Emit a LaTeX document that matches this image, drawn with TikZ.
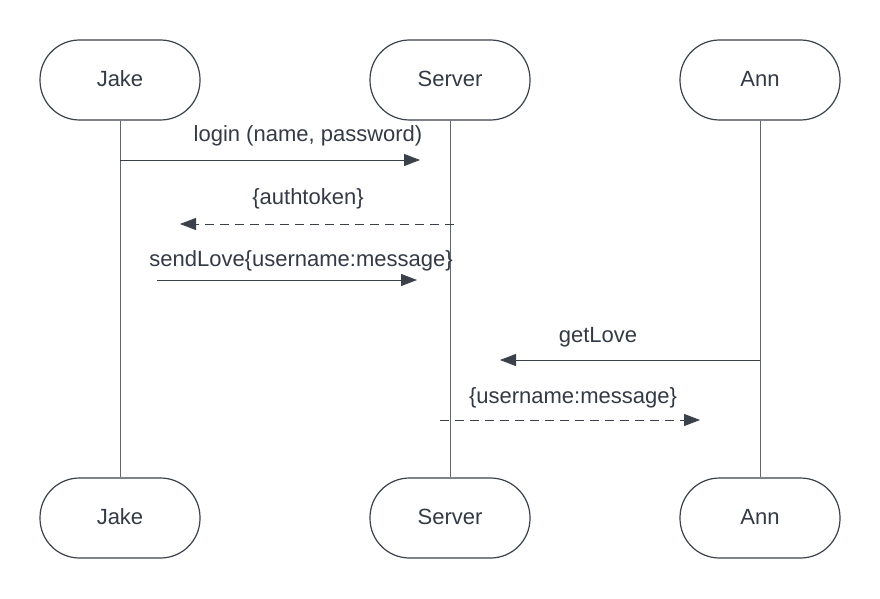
\documentclass[tikz,border=0pt]{standalone}
\usepackage{fontspec}
\setmainfont{Liberation Sans}
\usetikzlibrary{arrows.meta}
\definecolor{ink}{HTML}{3A414A}
\definecolor{txt}{HTML}{333A45}
\tikzset{
  actor/.style={draw=ink, line width=1.2pt, rounded corners=39.5pt, minimum width=160pt, minimum height=80pt, inner sep=0pt, text=txt, font=\fontsize{22}{26}\selectfont},
  life/.style={draw=ink!80, line width=1pt},
  msg/.style={draw=ink, line width=1pt, -{Triangle[length=16pt,width=12pt]}},
  reply/.style={msg, dash pattern=on 9pt off 6pt},
  lbl/.style={text=txt, font=\fontsize{22}{26}\selectfont, inner sep=0pt}
}
\begin{document}
\begin{tikzpicture}[x=1pt,y=-1pt]
\useasboundingbox (0,0) rectangle (880,599);
\node[actor] (jt) at (120,80) {\raisebox{3pt}{Jake}};
\node[actor] (st) at (450,80) {\raisebox{3pt}{Server}};
\node[actor] (at) at (760,80) {\raisebox{3pt}{Ann}};
\node[actor] (jb) at (120,518) {\raisebox{2pt}{Jake}};
\node[actor] (sb) at (450,518) {\raisebox{2pt}{Server}};
\node[actor] (ab) at (760,518) {\raisebox{2pt}{Ann}};
\draw[life] (jt) -- (jb);
\draw[life] (st) -- (sb);
\draw[life] (at) -- (ab);
\coordinate (m1a) at (120,160); \coordinate (m1b) at (420,160);
\coordinate (m2a) at (454,224); \coordinate (m2b) at (180,224);
\coordinate (m3a) at (157,280); \coordinate (m3b) at (417,280);
\coordinate (m4a) at (760,360); \coordinate (m4b) at (500,360);
\coordinate (m5a) at (440,420); \coordinate (m5b) at (700,420);
\draw[msg] (m1a) -- (m1b);
\draw[reply] (m2a) -- (m2b);
\draw[msg] (m3a) -- (m3b);
\draw[msg] (m4a) -- (m4b);
\draw[reply] (m5a) -- (m5b);
\node[lbl] (l1) at (308,136) {login (name, password)};
\node[lbl] (l2) at (308,199) {\{authtoken\}};
\node[lbl] (l3) at (301,261) {sendLove\{username:message\}};
\node[lbl] (l4) at (598,337) {getLove};
\node[lbl] (l5) at (573,398) {\{username:message\}};
\end{tikzpicture}
\end{document}
